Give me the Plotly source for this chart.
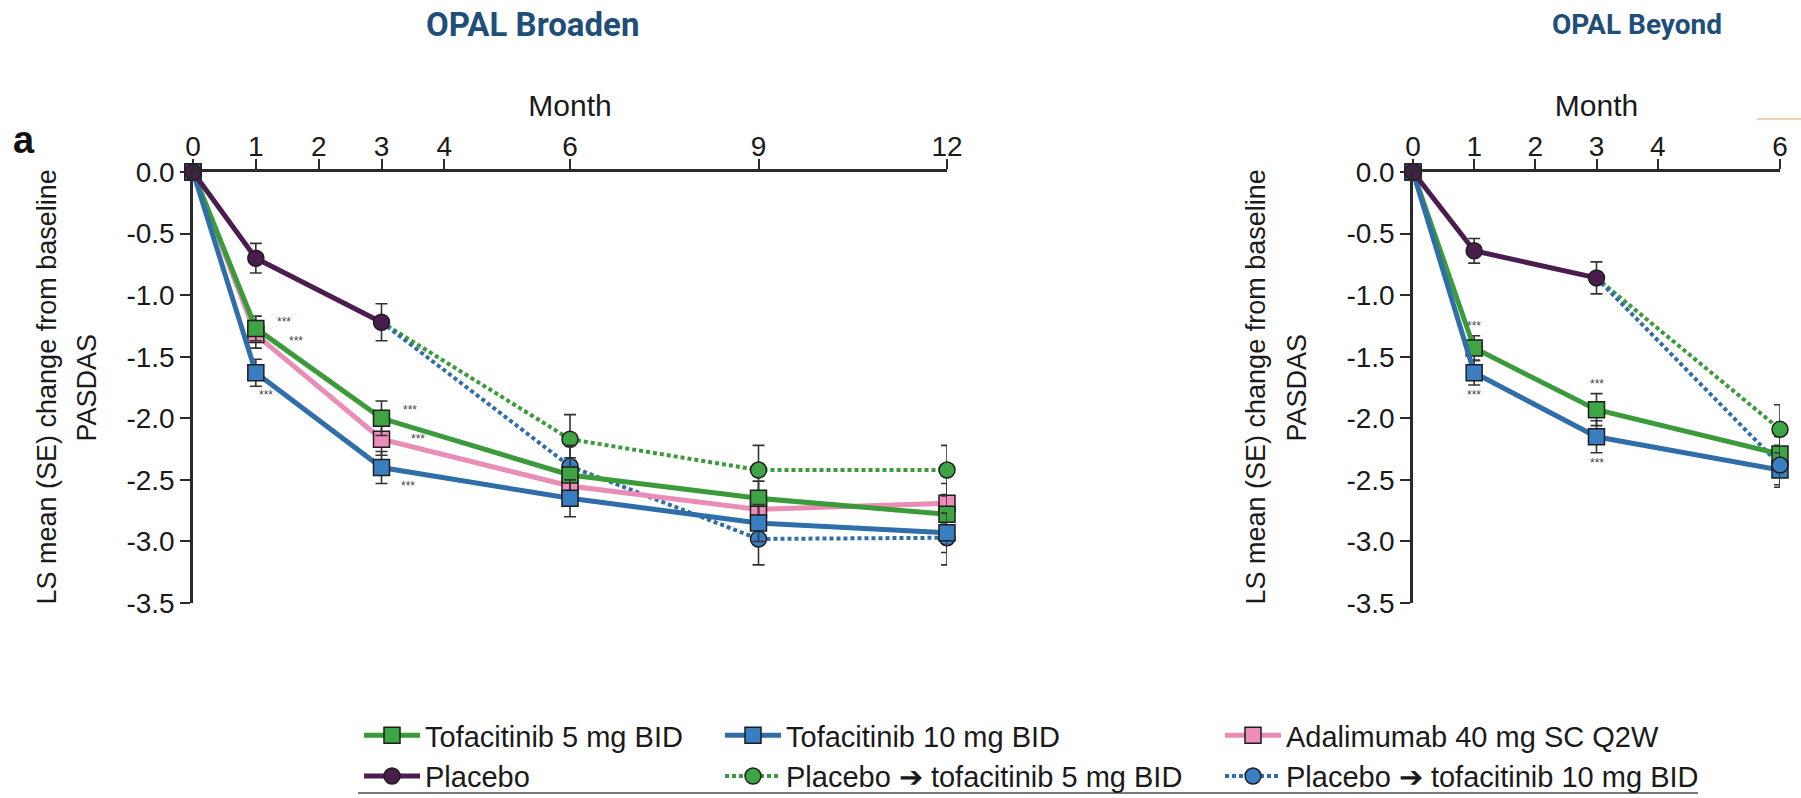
import plotly.graph_objects as go

# ---------------- data ----------------
months_broaden = [0, 1, 3, 6, 9, 12]
months_placebo = [0, 1, 3]
months_switch_broaden = [6, 9, 12]

tofa5_broaden = [0, -1.27, -2.00, -2.46, -2.65, -2.78]
tofa5_broaden_se = [0, 0.10, 0.14, 0.14, 0.14, 0.15]
tofa10_broaden = [0, -1.63, -2.40, -2.65, -2.85, -2.93]
tofa10_broaden_se = [0, 0.11, 0.13, 0.15, 0.15, 0.16]
ada_broaden = [0, -1.32, -2.17, -2.55, -2.74, -2.69]
ada_broaden_se = [0, 0.11, 0.13, 0.14, 0.15, 0.16]
placebo_broaden = [0, -0.70, -1.22]
placebo_broaden_se = [0, 0.12, 0.15]
pt5_broaden = [-2.17, -2.42, -2.42]
pt5_broaden_se = [0.20, 0.20, 0.20]
pt10_broaden = [-2.39, -2.98, -2.97]
pt10_broaden_se = [0.17, 0.21, 0.22]

months_beyond = [0, 1, 3, 6]
months_switch_beyond = [6]
tofa5_beyond = [0, -1.43, -1.93, -2.29]
tofa5_beyond_se = [0, 0.10, 0.13, 0.14]
tofa10_beyond = [0, -1.63, -2.15, -2.42]
tofa10_beyond_se = [0, 0.10, 0.13, 0.14]
placebo_beyond = [0, -0.64, -0.86]
placebo_beyond_se = [0, 0.10, 0.13]
pt5_beyond = [-2.09]
pt5_beyond_se = [0.20]
pt10_beyond = [-2.38]
pt10_beyond_se = [0.16]

x_ticks_broaden = [0, 1, 2, 3, 4, 6, 9, 12]
x_ticks_beyond = [0, 1, 2, 3, 4, 6]
y_ticks = [0, -0.5, -1.0, -1.5, -2.0, -2.5, -3.0, -3.5]
y_tick_text = ["0.0", "-0.5", "-1.0", "-1.5", "-2.0", "-2.5", "-3.0", "-3.5"]

names = {
    "t5": "Tofacitinib 5 mg BID",
    "t10": "Tofacitinib 10 mg BID",
    "ada": "Adalimumab 40 mg SC Q2W",
    "pbo": "Placebo",
    "pt5": "Placebo \u2794 tofacitinib 5 mg BID",
    "pt10": "Placebo \u2794 tofacitinib 10 mg BID",
}
# legend column / row for each series
legend_of = {"t5": ("legend", 1), "pbo": ("legend", 2),
             "t10": ("legend2", 1), "pt5": ("legend2", 2),
             "ada": ("legend3", 1), "pt10": ("legend3", 2)}

# ---------------- styles ----------------
GREEN_L, GREEN_F = "#3b9b3a", "#3fa443"
BLUE_L, BLUE_F = "#2f6ea9", "#3a7ec2"
PINK_L, PINK_F = "#e98cb6", "#ee8dba"
PURPLE = "#4a1d4e"
OUTLINE = "#1e1e1e"
ERR = "#333333"
FONT = "Liberation Sans, Arial, sans-serif"
TXT = "#1a1a1a"
DOT = "4px,3px"

fig = go.Figure()


def add(x, y, se, key, xa, ya, color, fill, symbol, dash, showlegend, width):
    leg, rank = legend_of[key]
    fig.add_trace(go.Scatter(
        x=x, y=y, name=names[key], mode="lines+markers",
        xaxis=xa, yaxis=ya, legend=leg, legendrank=rank, legendgroup=key, showlegend=showlegend,
        line=dict(color=color, width=width, dash=dash),
        marker=dict(symbol=symbol, size=16, color=fill, line=dict(color=OUTLINE, width=1.5)),
        error_y=dict(type="data", array=se, visible=True, color=ERR, thickness=1.6, width=6),
        cliponaxis=False,
    ))


def bridge(x0, y0, x1, y1, key, xa, ya, color):
    fig.add_trace(go.Scatter(
        x=[x0, x1], y=[y0, y1], mode="lines", xaxis=xa, yaxis=ya,
        legendgroup=key, showlegend=False, hoverinfo="skip",
        line=dict(color=color, width=4, dash=DOT), cliponaxis=False,
    ))


# ----- OPAL Broaden (left) -----
bridge(months_placebo[-1], placebo_broaden[-1], months_switch_broaden[0], pt5_broaden[0], "pt5", "x", "y", GREEN_L)
bridge(months_placebo[-1], placebo_broaden[-1], months_switch_broaden[0], pt10_broaden[0], "pt10", "x", "y", BLUE_L)
add(months_switch_broaden, pt5_broaden, pt5_broaden_se, "pt5", "x", "y", GREEN_L, GREEN_F, "circle", DOT, True, 4)
add(months_switch_broaden, pt10_broaden, pt10_broaden_se, "pt10", "x", "y", BLUE_L, BLUE_F, "circle", DOT, True, 4)
add(months_broaden, ada_broaden, ada_broaden_se, "ada", "x", "y", PINK_L, PINK_F, "square", "solid", True, 5)
add(months_broaden, tofa5_broaden, tofa5_broaden_se, "t5", "x", "y", GREEN_L, GREEN_F, "square", "solid", True, 5)
add(months_broaden, tofa10_broaden, tofa10_broaden_se, "t10", "x", "y", BLUE_L, BLUE_F, "square", "solid", True, 5)
add(months_placebo, placebo_broaden, placebo_broaden_se, "pbo", "x", "y", PURPLE, PURPLE, "circle", "solid", True, 5)

# ----- OPAL Beyond (right) -----
bridge(months_placebo[-1], placebo_beyond[-1], months_switch_beyond[0], pt5_beyond[0], "pt5", "x2", "y2", GREEN_L)
bridge(months_placebo[-1], placebo_beyond[-1], months_switch_beyond[0], pt10_beyond[0], "pt10", "x2", "y2", BLUE_L)
add(months_switch_beyond, pt5_beyond, pt5_beyond_se, "pt5", "x2", "y2", GREEN_L, GREEN_F, "circle", DOT, False, 4)
add(months_beyond, tofa5_beyond, tofa5_beyond_se, "t5", "x2", "y2", GREEN_L, GREEN_F, "square", "solid", False, 5)
add(months_beyond, tofa10_beyond, tofa10_beyond_se, "t10", "x2", "y2", BLUE_L, BLUE_F, "square", "solid", False, 5)
add(months_switch_beyond, pt10_beyond, pt10_beyond_se, "pt10", "x2", "y2", BLUE_L, BLUE_F, "circle", DOT, False, 4)
add(months_placebo, placebo_beyond, placebo_beyond_se, "pbo", "x2", "y2", PURPLE, PURPLE, "circle", "solid", False, 5)

# ---------------- axes ----------------
W, H = 1801, 798
axis_common = dict(showline=True, linecolor="#2a2a2a", linewidth=2.5, ticks="outside",
                   ticklen=10, tickwidth=2, tickcolor="#2a2a2a", showgrid=False, zeroline=False,
                   automargin=False, tickfont=dict(family=FONT, size=28, color=TXT))
ydom = [1 - 603 / H, 1 - 172 / H]
month_title = dict(text="Month", font=dict(family=FONT, size=30, color=TXT), standoff=6)

fig.update_layout(
    width=W, height=H, margin=dict(l=0, r=0, t=0, b=0, autoexpand=False),
    paper_bgcolor="white", plot_bgcolor="white",
    xaxis=dict(domain=[193 / W, 947 / W], range=[0, 12], side="top", anchor="y",
               tickmode="array", tickvals=x_ticks_broaden, ticklabelstandoff=-8,
               title=month_title, **axis_common),
    yaxis=dict(domain=ydom, range=[-3.5, 0], anchor="x", tickmode="array",
               tickvals=y_ticks, ticktext=y_tick_text, **axis_common),
    xaxis2=dict(domain=[1413 / W, 1780 / W], range=[0, 6], side="top", anchor="y2",
                tickmode="array", tickvals=x_ticks_beyond, ticklabelstandoff=-8,
                title=month_title, **axis_common),
    yaxis2=dict(domain=ydom, range=[-3.5, 0], anchor="x2", tickmode="array",
                tickvals=y_ticks, ticktext=y_tick_text, **axis_common),
    showlegend=True,
)

leg_common = dict(orientation="v", yanchor="top", xanchor="left", bgcolor="rgba(0,0,0,0)",
                  font=dict(family=FONT, size=29, color=TXT), itemwidth=56,
                  traceorder="normal", tracegroupgap=0)
leg_y = 1 - 710 / H
fig.update_layout(
    legend=dict(x=359 / W, y=leg_y, **leg_common),
    legend2=dict(x=720 / W, y=leg_y, **leg_common),
    legend3=dict(x=1220 / W, y=leg_y, **leg_common),
)

# ---------------- text ----------------
ann = []
ann.append(dict(text="<b>OPAL Broaden</b>", x=532 / W, y=1 - 25 / H, xref="paper", yref="paper",
                xanchor="center", yanchor="middle", showarrow=False,
                font=dict(family="Roboto, sans-serif", size=33, color="#1f4e79")))
ann.append(dict(text="<b>OPAL Beyond</b>", x=1637 / W, y=1 - 25 / H, xref="paper", yref="paper",
                xanchor="center", yanchor="middle", showarrow=False,
                font=dict(family="Roboto, sans-serif", size=28, color="#1f4e79")))
ann.append(dict(text="<b>a</b>", x=24 / W, y=1 - 140 / H, xref="paper", yref="paper",
                xanchor="center", yanchor="middle", showarrow=False,
                font=dict(family=FONT, size=38, color="#111")))
for x_line1, x_line2 in ((46, 86), (1255, 1296)):
    ann.append(dict(text="LS mean (SE) change from baseline", x=x_line1 / W, y=(ydom[0] + ydom[1]) / 2,
                    xref="paper", yref="paper", xanchor="center", yanchor="middle",
                    textangle=-90, showarrow=False, font=dict(family=FONT, size=27, color=TXT)))
    ann.append(dict(text="PASDAS", x=x_line2 / W, y=(ydom[0] + ydom[1]) / 2,
                    xref="paper", yref="paper", xanchor="center", yanchor="middle",
                    textangle=-90, showarrow=False, font=dict(family=FONT, size=27, color=TXT)))

# significance markers next to points
stars = [
    ("x", "y", months_broaden[1], tofa5_broaden[1], 28, 6),
    ("x", "y", months_broaden[1], ada_broaden[1], 40, -6),
    ("x", "y", months_broaden[1], tofa10_broaden[1], 10, -22),
    ("x", "y", months_broaden[2], tofa5_broaden[2], 28, 8),
    ("x", "y", months_broaden[2], ada_broaden[2], 36, 0),
    ("x", "y", months_broaden[2], tofa10_broaden[2], 26, -18),
    ("x2", "y2", months_beyond[1], tofa5_beyond[1], 0, 22),
    ("x2", "y2", months_beyond[1], tofa10_beyond[1], 0, -22),
    ("x2", "y2", months_beyond[2], tofa5_beyond[2], 0, 26),
    ("x2", "y2", months_beyond[2], tofa10_beyond[2], 0, -26),
]
for xa, ya, xv, yv, dx, dy in stars:
    ann.append(dict(text="***", x=xv, y=yv, xref=xa, yref=ya, xshift=dx, yshift=dy,
                    showarrow=False, font=dict(family=FONT, size=12, color="#444")))

fig.update_layout(annotations=ann)

# rule under legend and small artifact line at top right
fig.add_shape(type="line", xref="paper", yref="paper", x0=358 / W, x1=1698 / W,
              y0=1 - 793 / H, y1=1 - 793 / H, line=dict(color="#777", width=2))
fig.add_shape(type="line", xref="paper", yref="paper", x0=1757 / W, x1=1.0,
              y0=1 - 119 / H, y1=1 - 119 / H, line=dict(color="#f2cfae", width=2))

fig.write_html("out.html", config={"displayModeBar": False},
               post_script="document.body.style.margin='0px';")
